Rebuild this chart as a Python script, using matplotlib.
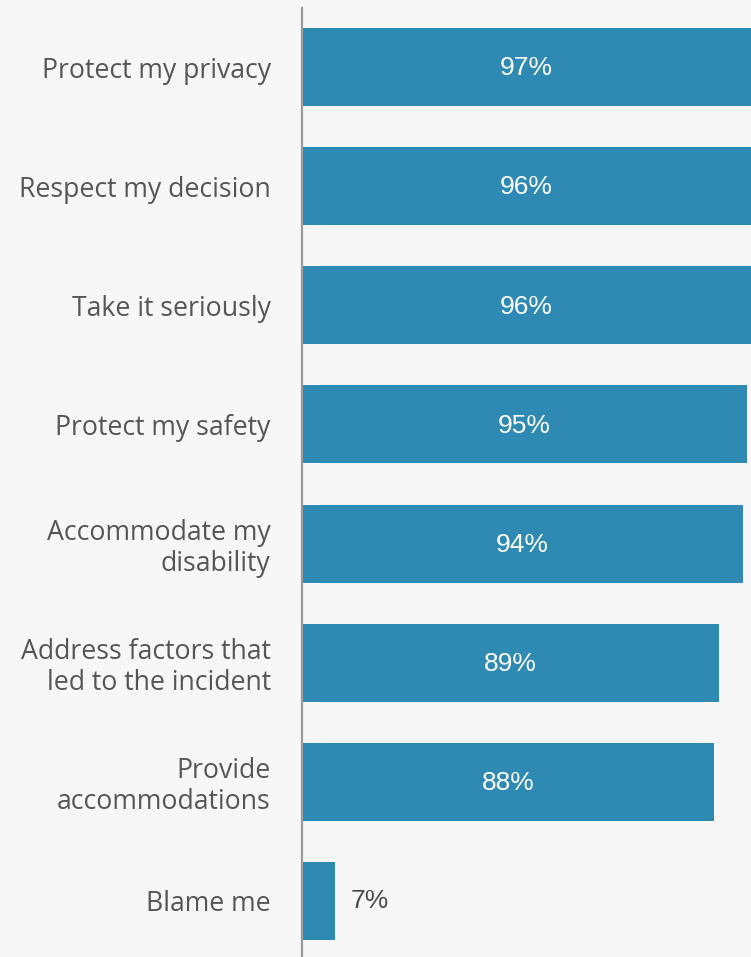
import matplotlib.pyplot as plt

# Survey responses: what respondents want from the organisation
categories = [
    "Protect my privacy",
    "Respect my decision",
    "Take it seriously",
    "Protect my safety",
    "Accommodate my\ndisability",
    "Address factors that\nled to the incident",
    "Provide\naccommodations",
    "Blame me",
]
percents = [97, 96, 96, 95, 94, 89, 88, 7]

bg = "#f7f7f7"
bar_color = "#2e8ab3"
x_max = 95.8

fig = plt.figure(figsize=(7.51, 9.57), dpi=100, facecolor=bg)
ax = fig.add_axes([302 / 751, -3.5 / 957, 449 / 751, 953 / 957])
ax.set_facecolor(bg)

y = list(range(len(categories)))
ax.barh(y, percents, height=0.655, color=bar_color, zorder=2)
ax.set_xlim(0, x_max)
ax.set_ylim(len(categories) - 0.5, -0.5)

# value labels: inside (white) for long bars, outside for short ones
for yi, v in zip(y, percents):
    if v > 20:
        ax.text(min(v, x_max) / 2, yi + 0.01, f"{v}%", ha="center", va="center",
                color="white", fontsize=19, family="Liberation Sans")
    else:
        ax.annotate(f"{v}%", xy=(v, yi), xytext=(16, 0), textcoords="offset pixels",
                    ha="left", va="center", color="#4a4a4a", fontsize=19,
                    family="Liberation Sans")

ax.set_yticks(y)
ax.set_yticklabels(categories, fontsize=19.2, family="Open Sans", color="#555555",
                   linespacing=1.15)
ax.tick_params(axis="y", length=0, pad=22.5)
ax.set_xticks([])

for s in ["top", "right", "bottom"]:
    ax.spines[s].set_visible(False)
ax.spines["left"].set_color("#9a9a9a")
ax.spines["left"].set_linewidth(1.6)
ax.spines["left"].set_zorder(3)

fig.savefig("out.png", dpi=100, facecolor=bg)
